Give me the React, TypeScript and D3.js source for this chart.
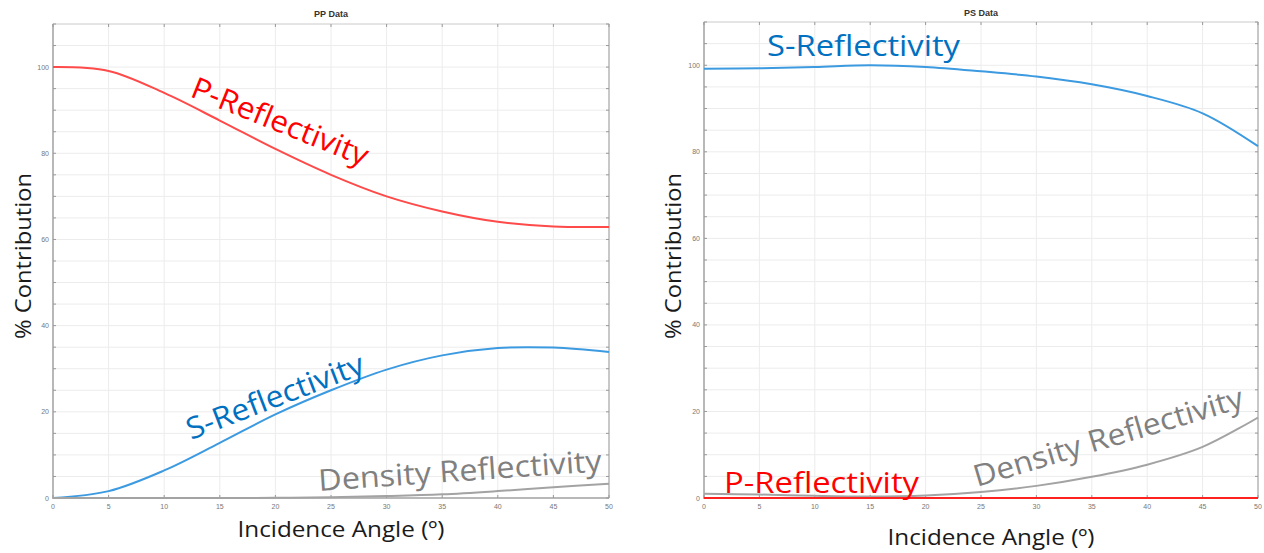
import React from 'react';
import * as d3 from 'd3';

// incidence angles (deg) at which the curves are read
const ANGLES = [0, 5, 10, 15, 20, 25, 30, 35, 40, 45, 50];
const X_TICKS = [0, 5, 10, 15, 20, 25, 30, 35, 40, 45, 50];
const Y_LABELS = [0, 20, 40, 60, 80, 100];
const Y_GRID = d3.range(0, 111, 5);

// PP data (% contribution)
const PP_P = [100, 99.1, 94, 87.6, 81, 75, 70, 66.5, 64.1, 63, 62.9];
const PP_S = [0, 1.6, 6.4, 12.8, 19.4, 25, 29.8, 33.1, 34.8, 34.9, 33.9];
const PP_DENSITY = [0, 0, 0, 0, 0.05, 0.2, 0.45, 0.85, 1.6, 2.5, 3.3];

// PS data (% contribution)
const PS_S = [99.2, 99.3, 99.6, 100, 99.6, 98.6, 97.4, 95.6, 92.9, 88.9, 81.3];
const PS_P = [0, 0, 0, 0, 0, 0, 0, 0, 0, 0, 0];
const PS_DENSITY = [1, 0.8, 0.5, 0.35, 0.6, 1.4, 2.8, 4.9, 7.7, 11.8, 18.6];

const RED_LINE = '#ff4a4a';
const BLUE_LINE = '#3c9ae0';
const GRAY_LINE = '#a3a3a3';
const RED_TEXT = '#ff0000';
const BLUE_TEXT = '#0070c0';
const GRAY_TEXT = '#808080';
const LABEL_FONT = '"Open Sans", "Noto Sans", sans-serif';

type Note = { text: string; x: number; y: number; angle: number; len: number; size: number; color: string };
type Series = { values: number[]; color: string; width: number };

function Panel(props: {
  left: number; right: number; top: number; bottom: number;
  title: string; titleY: number;
  series: Series[]; notes: Note[];
  xLabelY: number; yLabelX: number;
}) {
  const { left, right, top, bottom, title, titleY, series, notes, xLabelY, yLabelX } = props;
  const x = d3.scaleLinear().domain([0, 50]).range([left, right]);
  const y = d3.scaleLinear().domain([0, 110]).range([bottom, top]);
  const line = d3.line<number>()
    .x((_, i) => x(ANGLES[i]))
    .y(d => y(d))
    .curve(d3.curveCatmullRom.alpha(0.5));
  const midX = (left + right) / 2;

  return (
    <g>
      {/* grid */}
      {X_TICKS.map(t => (
        <line key={'gx' + t} x1={x(t)} x2={x(t)} y1={top} y2={bottom} stroke="#ececec" strokeWidth={1} />
      ))}
      {Y_GRID.map(t => (
        <line key={'gy' + t} x1={left} x2={right} y1={y(t)} y2={y(t)} stroke="#ececec" strokeWidth={1} />
      ))}
      <rect x={left} y={top} width={right - left} height={bottom - top} fill="none" stroke="#d4d4d4" strokeWidth={1} />
      <line x1={right} x2={right} y1={top} y2={bottom} stroke="#c8c8c8" strokeWidth={2} />
      <line x1={left} x2={left} y1={top} y2={bottom + 1} stroke="#b8b8b8" strokeWidth={2} />
      <line x1={left - 1} x2={right} y1={bottom} y2={bottom} stroke="#b8b8b8" strokeWidth={2} />

      {/* ticks */}
      {X_TICKS.map(t => (
        <g key={'tx' + t}>
          <line x1={x(t)} x2={x(t)} y1={top} y2={top + 3} stroke="#999" />
          <line x1={x(t)} x2={x(t)} y1={bottom} y2={bottom - 3} stroke="#999" />
          <text x={x(t)} y={bottom + 11} textAnchor="middle" fontSize={7} fill="#777"
            fontFamily="Liberation Sans, Arial, sans-serif">{t}</text>
        </g>
      ))}
      {Y_GRID.map(t => (
        <g key={'ty' + t}>
          <line x1={left} x2={left + 3} y1={y(t)} y2={y(t)} stroke="#999" />
          <line x1={right} x2={right - 3} y1={y(t)} y2={y(t)} stroke="#999" />
        </g>
      ))}
      {Y_LABELS.map(t => (
        <text key={'ly' + t} x={left - 4} y={y(t) + 2.5} textAnchor="end" fontSize={7} fill="#777"
          fontFamily="Liberation Sans, Arial, sans-serif">{t}</text>
      ))}

      {/* curves */}
      {series.map((s, i) => (
        <path key={'s' + i} d={line(s.values) || ''} fill="none" stroke={s.color} strokeWidth={s.width} />
      ))}

      {/* in-plot labels */}
      {notes.map((n, i) => (
        <text key={'n' + i} transform={`translate(${n.x},${n.y}) rotate(${n.angle})`}
          fontFamily={LABEL_FONT} fontSize={n.size} fill={n.color}
          textLength={n.len} lengthAdjust="spacingAndGlyphs">{n.text}</text>
      ))}

      <text x={midX} y={titleY} textAnchor="middle" fontSize={9} fontWeight="bold" fill="#333"
        fontFamily="Liberation Sans, Arial, sans-serif">{title}</text>
      <text x={midX + 10} y={xLabelY} textAnchor="middle" fontFamily={LABEL_FONT} fontSize={22} fill="#1a1a1a"
        textLength={207} lengthAdjust="spacingAndGlyphs">Incidence Angle (º)</text>
      <text transform={`translate(${yLabelX},${256}) rotate(-90)`} textAnchor="middle" fontFamily={LABEL_FONT}
        fontSize={22} fill="#1a1a1a" textLength={166} lengthAdjust="spacingAndGlyphs">% Contribution</text>
    </g>
  );
}

export default function App() {
  return (
    <svg width={1264} height={553} style={{ position: 'absolute', left: 0, top: 0, background: '#fff' }}>
      <Panel
        left={53} right={609} top={24} bottom={498}
        title="PP Data" titleY={17}
        xLabelY={537} yLabelX={31}
        series={[
          { values: PP_P, color: RED_LINE, width: 2 },
          { values: PP_S, color: BLUE_LINE, width: 2 },
          { values: PP_DENSITY, color: GRAY_LINE, width: 2 },
        ]}
        notes={[
          { text: 'P-Reflectivity', x: 189, y: 96, angle: 22, len: 188, size: 30, color: RED_TEXT },
          { text: 'S-Reflectivity', x: 191, y: 440, angle: -21, len: 188, size: 30, color: BLUE_TEXT },
          { text: 'Density Reflectivity', x: 319, y: 491, angle: -4, len: 284, size: 30, color: GRAY_TEXT },
        ]}
      />
      <Panel
        left={704} right={1258} top={22} bottom={498}
        title="PS Data" titleY={16}
        xLabelY={545} yLabelX={681}
        series={[
          { values: PS_S, color: BLUE_LINE, width: 2 },
          { values: PS_DENSITY, color: GRAY_LINE, width: 2 },
          { values: PS_P, color: '#ff2020', width: 2 },
        ]}
        notes={[
          { text: 'S-Reflectivity', x: 767, y: 56, angle: 0, len: 193, size: 30, color: BLUE_TEXT },
          { text: 'P-Reflectivity', x: 724, y: 493, angle: 0, len: 195, size: 30, color: RED_TEXT },
          { text: 'Density Reflectivity', x: 977, y: 487, angle: -16.6, len: 280, size: 30, color: GRAY_TEXT },
        ]}
      />
    </svg>
  );
}
